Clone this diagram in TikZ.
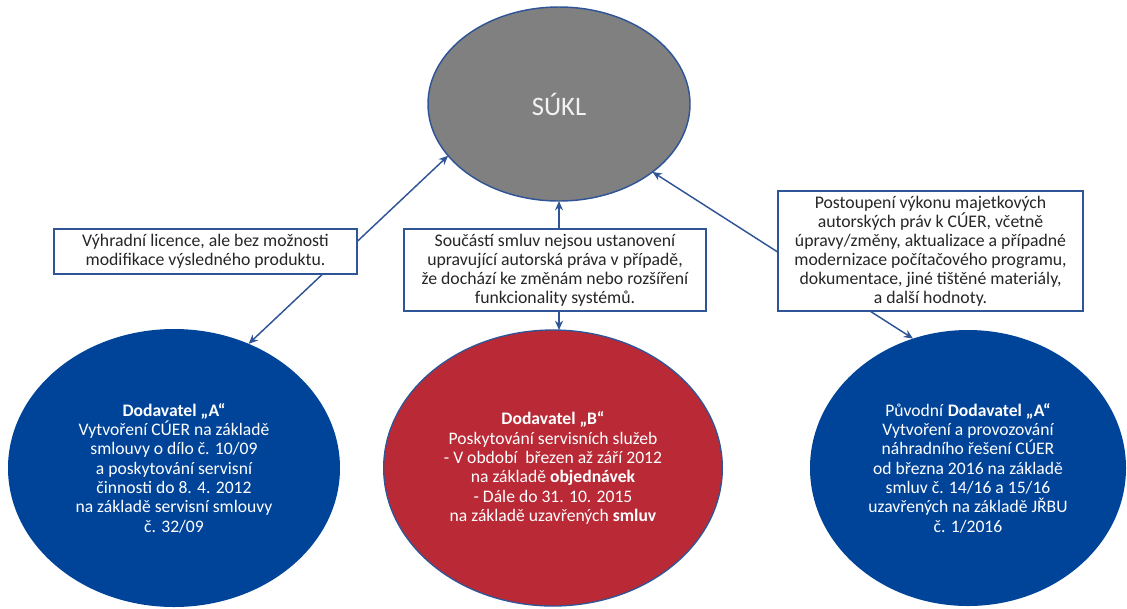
\documentclass[tikz,border=0pt]{standalone}
\usepackage{fontspec}
\setmainfont{Carlito}
\usetikzlibrary{shapes, arrows.meta}

\definecolor{suklgrey}{HTML}{808080}
\definecolor{edgeblue}{HTML}{2F5597}
\definecolor{fillblue}{HTML}{00449A}
\definecolor{fillred}{HTML}{B92A36}
\definecolor{boxtext}{HTML}{262626}

\begin{document}
\begin{tikzpicture}[x=0.75pt, y=-0.75pt,
    party/.style={ellipse, inner sep=0pt, outer sep=0pt, align=center, text=white,
        font=\fontsize{13.2}{14.5}\selectfont},
    notebox/.style={draw=edgeblue, line width=1.1pt, fill=white, align=center, text=boxtext,
        inner sep=2pt, font=\fontsize{13.3}{14.3}\selectfont},
    link/.style={edgeblue, line width=1.1pt, {Stealth[length=7pt,width=6pt]}-{Stealth[length=7pt,width=6pt]}}]
        \useasboundingbox (0,0) rectangle (1127,608);

        \node[party, draw=edgeblue, line width=1.1pt, fill=suklgrey, minimum width=196.5pt, minimum height=145.5pt,
            text=white!95!black, font=\fontsize{20}{24}\selectfont] (sukl) at (559,104) {SÚKL};

        \node[party, fill=fillblue, minimum width=249pt, minimum height=208.5pt] (dodA) at (174,468)
            {\textbf{Dodavatel „A“}\\Vytvoření CÚER na základě\\smlouvy o dílo č. 10/09\\a poskytování servisní\\činnosti do 8. 4. 2012\\na základě servisní smlouvy\\č. 32/09};
        \node[party, draw=edgeblue, line width=1pt, fill=fillred, minimum width=254pt, minimum height=207pt] (dodB) at (553,468)
            {\textbf{Dodavatel „B“}\\Poskytování servisních služeb\\- V období~ březen až září 2012\\na základě \textbf{objednávek}\\- Dále do 31. 10. 2015\\na základě uzavřených \textbf{smluv}};
        \node[party, fill=fillblue, minimum width=237pt, minimum height=207pt] (dodC) at (968,468)
            {Původní \textbf{Dodavatel „A“}\\Vytvoření a provozování\\náhradního řešení CÚER\\od března 2016 na základě\\smluv č. 14/16 a 15/16\\uzavřených na základě JŘBU\\č. 1/2016};

        \draw[link] (dodA.59) -- (sukl.205);
        \draw[link] (sukl.south) -- (sukl.south |- dodB.north);
        \draw[link] (dodC.113) -- (sukl.-36);

        \node[notebox, minimum width=227pt, minimum height=34pt] (licA) at (205.5,251.5)
            {Výhradní licence, ale bez možnosti\\modifikace výsledného produktu.};
        \node[notebox, minimum width=226.5pt, minimum height=61.5pt] (licB) at (555,270)
            {Součástí smluv nejsou ustanovení\\upravující autorská práva v případě,\\že dochází ke změnám nebo rozšíření\\funkcionality systémů.};
        \node[notebox, minimum width=229pt, minimum height=90pt] (licC) at (930.5,251)
            {Postoupení výkonu majetkových\\autorských práv k CÚER, včetně\\úpravy/změny, aktualizace a případné\\modernizace počítačového programu,\\dokumentace, jiné tištěné materiály,\\a další hodnoty.};
    \end{tikzpicture}
\end{document}
